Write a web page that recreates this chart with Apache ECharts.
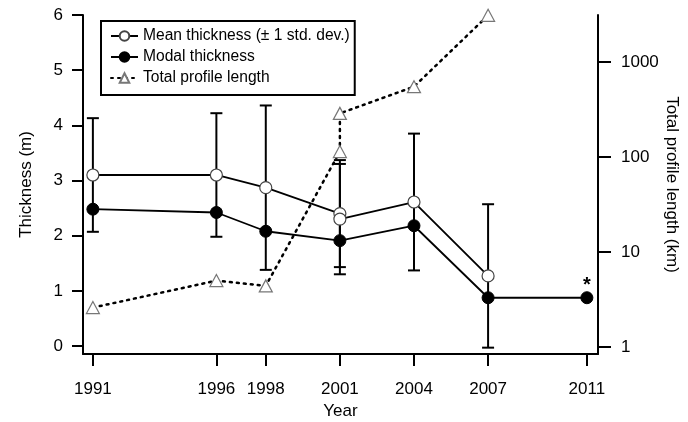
<!DOCTYPE html>
<html>
<head>
<meta charset="utf-8">
<script src="https://cdn.jsdelivr.net/npm/echarts@6/dist/echarts.min.js"></script>
<style>
  html, body { margin: 0; padding: 0; background: #fff; }
  #chart { width: 688px; height: 422px; }
</style>
</head>
<body>
<div id="chart"></div>
<script>
// Mean ice thickness per survey (m) with one standard deviation
const meanYears = [1991, 1996, 1998, 2001, 2001, 2004, 2007];
const meanThickness = [3.10, 3.10, 2.87, 2.40, 2.30, 2.61, 1.27];
const stdDev = [1.03, 1.12, 1.49, 0.97, 1.00, 1.24, 1.30];

// Modal ice thickness per survey (m)
const modalYears = [1991, 1996, 1998, 2001, 2004, 2007, 2011];
const modalThickness = [2.48, 2.42, 2.08, 1.91, 2.18, 0.875, 0.875];

// Total profile length per survey (km), plotted on a log axis
const lengthYears = [1991, 1996, 1998, 2001, 2001, 2004, 2007];
const profileLength = [2.6, 5.0, 4.4, 114, 288, 550, 3100];

// Tick positions
const yearTicks = [1991, 1996, 1998, 2001, 2004, 2007, 2011];
const thicknessTicks = [0, 1, 2, 3, 4, 5, 6];
const lengthTicks = [1, 10, 100, 1000];

const FONT = '"Liberation Sans", Arial, sans-serif';

const errorData = meanYears.map((y, i) => [y, meanThickness[i] - stdDev[i], meanThickness[i] + stdDev[i]]);
const meanData = meanYears.map((y, i) => [y, meanThickness[i]]);
const modalData = modalYears.map((y, i) => {
  const item = { value: [y, modalThickness[i]] };
  if (y === 2011) {
    // 2011 survey flagged with an asterisk
    item.label = {
      show: true, position: 'top', distance: -4, formatter: '*',
      fontSize: 20, fontWeight: 'bold', color: '#000', fontFamily: FONT
    };
  }
  return item;
});
const lengthData = lengthYears.map((y, i) => [y, profileLength[i]]);

const chart = echarts.init(document.getElementById('chart'), null, { renderer: 'canvas' });

const axisCommon = {
  axisLine: { show: true, onZero: false, lineStyle: { color: '#000', width: 2 } },
  axisTick: { show: true, inside: false, lineStyle: { color: '#000', width: 2 } },
  splitLine: { show: false },
  nameMoveOverlap: false,
  nameTextStyle: { color: '#000', fontSize: 17, fontFamily: FONT },
  axisLabel: { color: '#000', fontSize: 17, fontFamily: FONT }
};

chart.setOption({
  animation: false,
  backgroundColor: '#fff',
  grid: { left: 83, right: 90, top: 15, bottom: 68, containLabel: false, outerBoundsMode: 'none' },
  legend: {
    orient: 'vertical',
    left: 101,
    top: 21,
    padding: [7, 5, 9, 9],
    itemGap: 5,
    itemWidth: 27,
    itemHeight: 12,
    borderColor: '#000',
    borderWidth: 2,
    backgroundColor: '#fff',
    textStyle: { color: '#000', fontSize: 15.6, fontFamily: FONT },
    data: ['Mean thickness (± 1 std. dev.)', 'Modal thickness', 'Total profile length']
  },
  xAxis: {
    type: 'value',
    min: 1990.6,
    max: 2011.45,
    name: 'Year',
    nameLocation: 'middle',
    nameGap: 49,
    ...axisCommon,
    axisTick: { ...axisCommon.axisTick, length: 12, customValues: yearTicks },
    axisLabel: { ...axisCommon.axisLabel, margin: 27, customValues: yearTicks, formatter: v => String(v) }
  },
  yAxis: [
    {
      type: 'value',
      min: -0.145,
      max: 6,
      position: 'left',
      name: 'Thickness (m)',
      nameLocation: 'middle',
      nameGap: 48,
      ...axisCommon,
      axisTick: { ...axisCommon.axisTick, length: 11, customValues: thicknessTicks },
      axisLabel: { ...axisCommon.axisLabel, margin: 20, customValues: thicknessTicks }
    },
    {
      type: 'log',
      logBase: 10,
      min: 0.844,
      max: 3126,
      position: 'right',
      name: 'Total profile length (km)',
      nameLocation: 'middle',
      nameGap: 65,
      nameRotate: -90,
      ...axisCommon,
      axisTick: { ...axisCommon.axisTick, length: 13, customValues: lengthTicks },
      axisLabel: { ...axisCommon.axisLabel, margin: 23, customValues: lengthTicks, formatter: v => String(Math.round(v)) }
    }
  ],
  series: [
    {
      name: 'errorbars',
      type: 'custom',
      xAxisIndex: 0,
      yAxisIndex: 0,
      z: 2,
      silent: true,
      encode: { x: 0, y: [1, 2] },
      data: errorData,
      renderItem(params, api) {
        const x = api.value(0);
        const lo = api.coord([x, api.value(1)]);
        const hi = api.coord([x, api.value(2)]);
        const hw = 6;
        const st = { stroke: '#000', lineWidth: 2 };
        return {
          type: 'group',
          children: [
            { type: 'line', shape: { x1: lo[0], y1: lo[1], x2: hi[0], y2: hi[1] }, style: st },
            { type: 'line', shape: { x1: lo[0] - hw, y1: lo[1], x2: lo[0] + hw, y2: lo[1] }, style: st },
            { type: 'line', shape: { x1: hi[0] - hw, y1: hi[1], x2: hi[0] + hw, y2: hi[1] }, style: st }
          ]
        };
      }
    },
    {
      name: 'Total profile length',
      type: 'line',
      yAxisIndex: 1,
      z: 3,
      data: lengthData,
      symbol: 'triangle',
      symbolSize: [13, 12],
      showAllSymbol: true,
      lineStyle: { color: '#000', width: 2.5, type: [2, 5], cap: 'round' },
      itemStyle: { color: '#fff', borderColor: '#777', borderWidth: 1.2 }
    },
    {
      name: 'Modal thickness',
      type: 'line',
      yAxisIndex: 0,
      z: 4,
      data: modalData,
      symbol: 'circle',
      symbolSize: 12,
      showAllSymbol: true,
      lineStyle: { color: '#000', width: 1.8 },
      itemStyle: { color: '#000', borderColor: '#000', borderWidth: 1 }
    },
    {
      name: 'Mean thickness (± 1 std. dev.)',
      type: 'line',
      yAxisIndex: 0,
      z: 5,
      data: meanData,
      symbol: 'circle',
      symbolSize: 12,
      showAllSymbol: true,
      lineStyle: { color: '#000', width: 1.8 },
      itemStyle: { color: '#fff', borderColor: '#444', borderWidth: 1.2 }
    }
  ]
});
</script>
</body>
</html>
